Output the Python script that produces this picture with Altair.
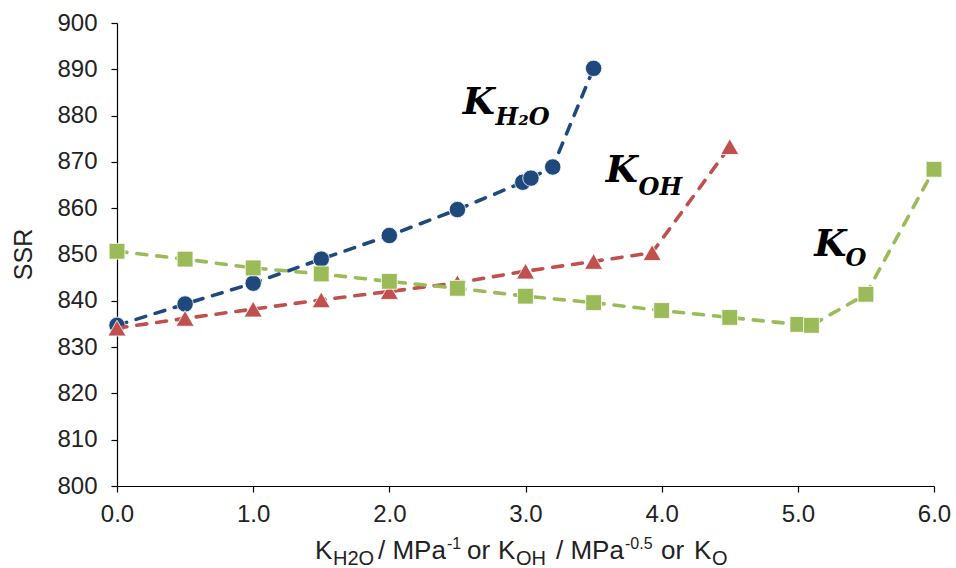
import altair as alt
import pandas as pd

# ---- data ----
x_h2o = [0.0, 0.5, 1.0, 1.5, 2.0, 2.5, 2.98, 3.04, 3.2, 3.5]
y_h2o = [834.7, 839.3, 843.8, 849.0, 854.1, 859.7, 865.6, 866.5, 868.9, 890.2]

x_oh = [0.0, 0.5, 1.0, 1.5, 2.0, 2.5, 3.0, 3.5, 3.93, 4.5]
y_oh = [834.1, 836.2, 838.2, 840.2, 842.0, 843.9, 846.4, 848.5, 850.4, 873.3]

x_o = [0.0, 0.5, 1.0, 1.5, 2.0, 2.5, 3.0, 3.5, 4.0, 4.5, 5.0, 5.1, 5.5, 6.0]
y_o = [850.7, 849.0, 847.1, 845.8, 844.2, 842.7, 841.0, 839.6, 837.9, 836.4, 834.9, 834.7, 841.4, 868.4]

x_ticks = [0, 1, 2, 3, 4, 5, 6]
y_ticks = list(range(800, 901, 10))

W, H = 817, 463
xs = alt.Scale(domain=[0, 6], nice=False, zero=False)
ys = alt.Scale(domain=[800, 900], nice=False, zero=False)

x_axis = alt.Axis(values=x_ticks, format=".1f", title=None, tickSize=6,
                  labelPadding=10, grid=False, labelFlush=False)
y_axis = alt.Axis(values=y_ticks, format="d", title="SSR", tickSize=6,
                  labelPadding=14, grid=False, labelFlush=False,
                  titleX=-94, titleY=231,
                  titleAlign="center", titleBaseline="middle", titleAngle=270)


def X():
    return alt.X("x:Q", scale=xs, axis=x_axis)


def Y():
    return alt.Y("y:Q", scale=ys, axis=y_axis)


series = [
    (x_h2o, y_h2o, "#1F497D", "circle", 270),
    (x_oh, y_oh, "#C0504D", "triangle-up", 330),
    (x_o, y_o, "#9BBB59", "square", 250),
]

layers = []
for xv, yv, col, shp, sz in series:
    df = pd.DataFrame({"x": xv, "y": yv})
    base = alt.Chart(df)
    line = base.mark_line(color=col, strokeWidth=3.6, strokeDash=[10, 10],
                          strokeCap="round").encode(x=X(), y=Y(), order="x:Q")
    pts = base.mark_point(shape=shp, filled=True, size=sz, color=col, opacity=1,
                          stroke="white", strokeWidth=0.8).encode(x=X(), y=Y())
    layers += [line, pts]

# ---- curve labels (data coordinates) ----
ann_font = "DejaVu Serif"
labels = [
    ("K", 2.54, 880.3, 37), ("H₂O", 2.78, 878.0, 24),
    ("K", 3.59, 865.7, 37), ("OH", 3.83, 862.9, 24),
    ("K", 5.12, 849.7, 37), ("O", 5.35, 847.6, 24),
]
for txt, lx, ly, fs in labels:
    d = pd.DataFrame({"x": [lx], "y": [ly]})
    layers.append(alt.Chart(d).mark_text(
        text=txt, align="left", baseline="alphabetic", font=ann_font,
        fontStyle="italic", fontWeight="bold", fontSize=fs, color="black").encode(
        x=X(), y=Y()))

# ---- x axis title with sub/superscripts (pixel positions) ----
one = pd.DataFrame({"a": [0]})
title_parts = [
    ("K", 315, 559, 26), ("H2O", 333, 565, 20), ("/ MPa", 378, 559, 26),
    ("-1", 447, 549, 16), ("or", 467, 559, 26), ("K", 498, 559, 26),
    ("OH", 516, 565, 20), ("/ MPa", 556, 559, 26), ("-0.5", 625, 549, 16),
    ("or", 661, 559, 26), ("K", 694, 559, 26), ("O", 712, 565, 20),
]
for txt, px, py, fs in title_parts:
    layers.append(alt.Chart(one).mark_text(
        text=txt, align="left", baseline="alphabetic", font="Liberation Sans",
        fontSize=fs, color="#222222").encode(
        x=alt.value(px - 117), y=alt.value(py - 23)))

chart = alt.layer(*layers).properties(
    width=W, height=H,
    autosize=alt.AutoSizeParams(type="none"),
    padding={"left": 117, "top": 23, "right": 22, "bottom": 82},
).configure_view(stroke=None).configure_axis(
    domainColor="#000000", tickColor="#000000", domainWidth=1.2, tickWidth=1.2,
    labelFont="Liberation Sans", labelFontSize=24, labelColor="#222222",
    titleFont="Liberation Sans", titleFontSize=25, titleColor="#222222",
    titleFontWeight="normal",
)

chart.save("out.html", embed_options={"renderer": "svg", "actions": False})
